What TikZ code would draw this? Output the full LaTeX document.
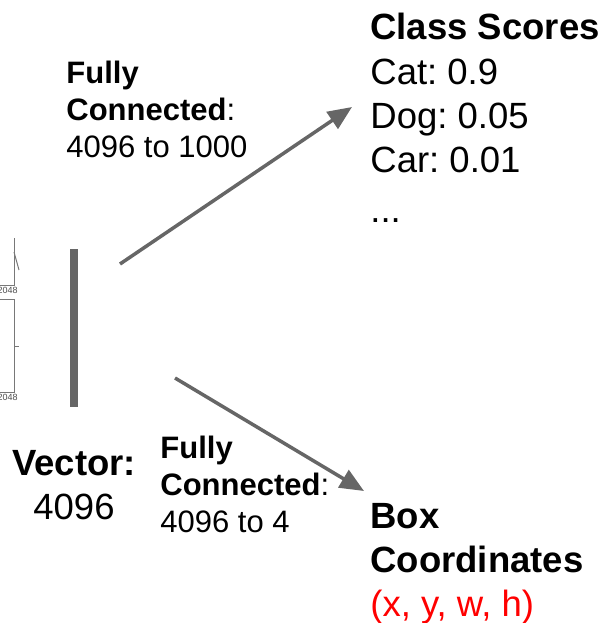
\documentclass[tikz,border=0pt]{standalone}
\usepackage{fontspec}
\setmainfont{Liberation Sans}
\frenchspacing
\usetikzlibrary{positioning,arrows.meta}
\definecolor{ArrowGray}{RGB}{102,102,102}
\definecolor{LineGray}{RGB}{120,120,120}
\definecolor{CoordRed}{RGB}{255,0,0}
\tikzset{
  bigtext/.style={inner sep=0pt,align=left,font=\fontsize{18.25}{22.1}\selectfont},
  smalltext/.style={inner sep=0pt,align=left,font=\fontsize{15.5}{18.5}\selectfont},
  fcarrow/.style={draw=ArrowGray,line width=1.75pt,-{Triangle[length=12pt,width=10pt]}},
  partline/.style={draw=LineGray,line width=0.5pt},
  dimlabel/.style={inner sep=0pt,font=\fontsize{4.5}{5}\selectfont,text=black!70},
  vecbar/.style={fill=ArrowGray,inner sep=0pt,minimum width=4pt,minimum height=79pt},
}

\begin{document}
\begin{tikzpicture}[x=0.5pt,y=-0.5pt]
  \clip (0,0) rectangle (609,623);

  % cut-off layer at the left edge
  \draw[partline] (14,238) -- (14,285) -- (0,285);
  \draw[partline] (14,252) -- (19,270);
  \node[dimlabel,anchor=base east] (dimA) at (18,293) {2048};
  \draw[partline] (0,299) -- (14,299) -- (14,392) -- (0,392);
  \draw[partline] (14,346) -- (19,346);
  \node[dimlabel,anchor=base east] (dimB) at (18,400) {2048};

  % feature vector
  \node[vecbar] (vec) at (74,328) {};
  \node[bigtext,align=center,anchor=north] (veclabel) at (74,450) {\textbf{Vector:}\\4096};

  % outputs
  \node[bigtext,anchor=north west] (scores) at (370,13)
    {\textbf{Class Scores}\\Cat: 0.9\\Dog: 0.05\\Car: 0.01\\[3pt]...};
  \node[bigtext,anchor=north west] (box) at (370,503)
    {\textbf{Box}\\\textbf{Coordinates}\\\textcolor{CoordRed}{(x, y, w, h)}};

  % layer labels
  \node[smalltext,anchor=north west] (fcTop) at (66,61)
    {\textbf{Fully}\\\textbf{Connected}:\\4096 to 1000};
  \node[smalltext,anchor=north west] (fcBot) at (160,436)
    {\textbf{Fully}\\\textbf{Connected}:\\4096 to 4};

  \coordinate (topStart) at (120,264);
  \coordinate (topEnd) at (352,107);
  \coordinate (botStart) at (175,378);
  \coordinate (botEnd) at (364,491);
  \draw[fcarrow] (topStart) -- (topEnd);
  \draw[fcarrow] (botStart) -- (botEnd);
\end{tikzpicture}
\end{document}
